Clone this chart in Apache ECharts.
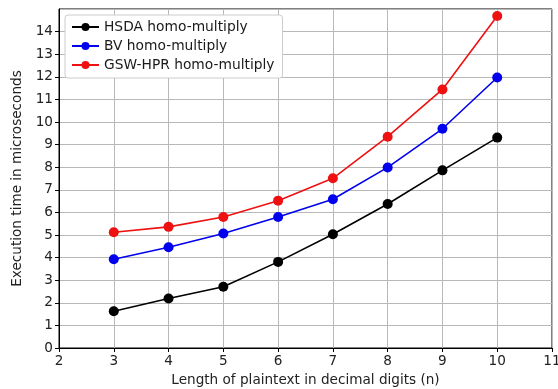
<!DOCTYPE html>
<html><head><meta charset="utf-8">
<script src="https://cdn.jsdelivr.net/npm/echarts@6/dist/echarts.min.js"></script>
<style>html,body{margin:0;padding:0;background:#fff}#c{width:558px;height:389px}</style>
</head><body><div id="c"></div>
<script>
var digits = [3, 4, 5, 6, 7, 8, 9, 10];
var hsda = [1.63, 2.19, 2.71, 3.81, 5.03, 6.37, 7.86, 9.31];
var bv = [3.93, 4.46, 5.07, 5.80, 6.58, 7.99, 9.70, 11.97];
var gsw = [5.12, 5.36, 5.80, 6.52, 7.51, 9.35, 11.44, 14.69];
var seriesNames = ['HSDA homo-multiply', 'BV homo-multiply', 'GSW-HPR homo-multiply'];
var seriesColors = ['#000000', '#0000ee', '#ee1111'];
var seriesValues = [hsda, bv, gsw];

function pairs(v){ return digits.map(function(d,i){ return [d, v[i]]; }); }
var font = 'DejaVu Sans';
var chart = echarts.init(document.getElementById('c'), null, {renderer:'canvas'});
chart.setOption({
  animation: false,
  backgroundColor: '#fff',
  grid: {left: 59, right: 6, top: 9, bottom: 41, outerBoundsMode: 'none', containLabel: false,
         show: true, borderColor: '#000', borderWidth: 1, backgroundColor: 'transparent'},
  legend: {
    orient: 'vertical', left: 65, top: 15,
    backgroundColor: '#fff', borderColor: '#cccccc', borderWidth: 1, borderRadius: 3,
    padding: [5, 8, 6, 6], itemGap: 5, itemWidth: 27, itemHeight: 10,
    textStyle: {fontFamily: font, fontSize: 13.8, color: '#1a1a1a'},
    data: seriesNames
  },
  xAxis: {
    type: 'value', min: 2, max: 11, interval: 1,
    name: 'Length of plaintext in decimal digits (n)', nameLocation: 'middle', nameGap: 25,
    nameTextStyle: {fontFamily: font, fontSize: 13.6, color: '#222'},
    axisLine: {show: true, lineStyle: {color: '#000', width: 1}},
    axisTick: {show: true, inside: false, length: 4, lineStyle: {color: '#000'}},
    axisLabel: {fontFamily: font, fontSize: 13.6, color: '#222', margin: 6},
    splitLine: {show: true, lineStyle: {color: '#b8b8b8', width: 1}}
  },
  yAxis: {
    type: 'value', min: 0, max: 15, interval: 1,
    name: 'Execution time in microseconds', nameLocation: 'middle', nameGap: 34,
    nameTextStyle: {fontFamily: font, fontSize: 13.6, color: '#222'},
    axisLine: {show: true, lineStyle: {color: '#000', width: 1}},
    axisTick: {show: true, inside: false, length: 4, lineStyle: {color: '#000'}},
    axisLabel: {fontFamily: font, fontSize: 13.6, color: '#222', margin: 6, showMaxLabel: false},
    splitLine: {show: true, lineStyle: {color: '#b8b8b8', width: 1}}
  },
  series: seriesNames.map(function(n, k){
    return {
      name: n, type: 'line', data: pairs(seriesValues[k]),
      symbol: 'circle', symbolSize: 10, showAllSymbol: true,
      itemStyle: {color: seriesColors[k]},
      lineStyle: {color: seriesColors[k], width: 1.6}
    };
  })
});
</script></body></html>
